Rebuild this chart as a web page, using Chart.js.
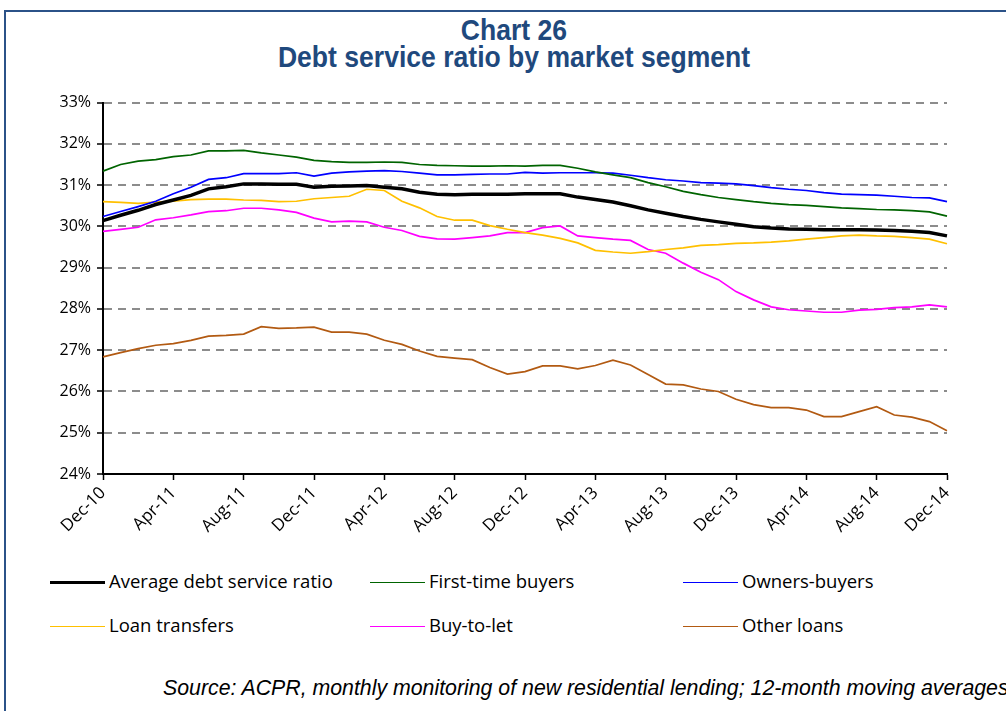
<!DOCTYPE html>
<html lang="en">

<head>
  <meta charset="UTF-8">
  <title>Debt service ratio by market segment</title>
  <script src="https://cdn.jsdelivr.net/npm/chart.js"></script>
</head>

<body>
  <div class="frame"></div>

  <div class="titulo">
    <div>Chart 26</div>
    <div>Debt service ratio by market segment</div>
  </div>

  <div class="container-chart">
    <canvas id="myChart"></canvas>
  </div>

  <div id="legenda"></div>

  <div class="fonte">Source: ACPR, monthly monitoring of new residential lending; 12-month moving averages</div>

<script>

  // monthly, Dec-10 .. Dec-14
  const meses = ['Dec-10', 'Jan-11', 'Feb-11', 'Mar-11', 'Apr-11', 'May-11', 'Jun-11', 'Jul-11', 'Aug-11', 'Sep-11', 'Oct-11', 'Nov-11',
    'Dec-11', 'Jan-12', 'Feb-12', 'Mar-12', 'Apr-12', 'May-12', 'Jun-12', 'Jul-12', 'Aug-12', 'Sep-12', 'Oct-12', 'Nov-12',
    'Dec-12', 'Jan-13', 'Feb-13', 'Mar-13', 'Apr-13', 'May-13', 'Jun-13', 'Jul-13', 'Aug-13', 'Sep-13', 'Oct-13', 'Nov-13',
    'Dec-13', 'Jan-14', 'Feb-14', 'Mar-14', 'Apr-14', 'May-14', 'Jun-14', 'Jul-14', 'Aug-14', 'Sep-14', 'Oct-14', 'Nov-14', 'Dec-14'];

  const media = [30.14, 30.27, 30.39, 30.53, 30.64, 30.75, 30.91, 30.96, 31.03, 31.03, 31.02, 31.02,
    30.95, 30.97, 30.98, 30.99, 30.95, 30.91, 30.83, 30.78, 30.77, 30.78, 30.78, 30.78,
    30.79, 30.79, 30.79, 30.71, 30.65, 30.59, 30.50, 30.40, 30.32, 30.24, 30.17, 30.11,
    30.05, 29.99, 29.96, 29.94, 29.93, 29.92, 29.92, 29.92, 29.91, 29.90, 29.88, 29.85, 29.77];

  const primeiraCompra = [31.34, 31.50, 31.58, 31.62, 31.69, 31.73, 31.83, 31.83, 31.84, 31.78, 31.73, 31.68,
    31.60, 31.57, 31.55, 31.55, 31.56, 31.55, 31.50, 31.48, 31.47, 31.46, 31.46, 31.47,
    31.46, 31.48, 31.48, 31.41, 31.32, 31.25, 31.18, 31.06, 30.96, 30.85, 30.77, 30.70,
    30.65, 30.60, 30.56, 30.53, 30.51, 30.48, 30.45, 30.43, 30.41, 30.40, 30.38, 30.35, 30.25];

  const proprietarios = [30.24, 30.36, 30.48, 30.61, 30.79, 30.95, 31.14, 31.18, 31.28, 31.28, 31.28, 31.30,
    31.22, 31.29, 31.32, 31.34, 31.35, 31.33, 31.29, 31.25, 31.25, 31.26, 31.27, 31.27,
    31.31, 31.29, 31.30, 31.30, 31.30, 31.29, 31.24, 31.18, 31.13, 31.10, 31.06, 31.05,
    31.03, 30.99, 30.94, 30.90, 30.87, 30.82, 30.78, 30.77, 30.76, 30.73, 30.70, 30.69, 30.60];

  const transferencias = [30.60, 30.58, 30.56, 30.59, 30.61, 30.65, 30.66, 30.66, 30.64, 30.63, 30.60, 30.61,
    30.67, 30.70, 30.73, 30.90, 30.87, 30.61, 30.45, 30.24, 30.15, 30.15, 30.02, 29.93,
    29.85, 29.79, 29.71, 29.60, 29.42, 29.38, 29.35, 29.39, 29.44, 29.48, 29.54, 29.56,
    29.59, 29.60, 29.62, 29.65, 29.69, 29.73, 29.77, 29.79, 29.77, 29.76, 29.73, 29.69, 29.58];

  const aluguel = [29.88, 29.93, 29.98, 30.16, 30.21, 30.28, 30.36, 30.38, 30.44, 30.44, 30.40, 30.34,
    30.20, 30.11, 30.13, 30.11, 29.98, 29.90, 29.76, 29.70, 29.69, 29.73, 29.77, 29.85,
    29.85, 29.97, 30.01, 29.77, 29.73, 29.69, 29.66, 29.44, 29.35, 29.11, 28.89, 28.71,
    28.42, 28.22, 28.05, 27.98, 27.95, 27.92, 27.92, 27.97, 27.99, 28.03, 28.05, 28.10, 28.05];

  const outros = [26.84, 26.94, 27.04, 27.12, 27.16, 27.24, 27.34, 27.36, 27.39, 27.57, 27.53, 27.54,
    27.56, 27.44, 27.44, 27.39, 27.24, 27.14, 26.98, 26.85, 26.81, 26.77, 26.58, 26.42,
    26.48, 26.62, 26.62, 26.55, 26.63, 26.76, 26.64, 26.41, 26.18, 26.16, 26.06, 26.00,
    25.81, 25.68, 25.61, 25.61, 25.55, 25.39, 25.39, 25.51, 25.63, 25.43, 25.38, 25.27, 25.05];

  const series = [
    { label: 'Average debt service ratio', data: media, cor: '#000000', largura: 3.5 },
    { label: 'First-time buyers', data: primeiraCompra, cor: '#006400', largura: 1.7 },
    { label: 'Owners-buyers', data: proprietarios, cor: '#0000ff', largura: 1.7 },
    { label: 'Loan transfers', data: transferencias, cor: '#ffc000', largura: 1.7 },
    { label: 'Buy-to-let', data: aluguel, cor: '#ff00ff', largura: 1.7 },
    { label: 'Other loans', data: outros, cor: '#b25a12', largura: 1.7 }
  ];

  // draw order: black on top
  const datasets = series.map((s, i) => ({
    label: s.label,
    data: s.data,
    borderColor: s.cor,
    borderWidth: s.largura,
    pointRadius: 0,
    tension: 0,
    order: i === 0 ? 0 : 1
  }));

  const fonte = { family: "'Open Sans', sans-serif", size: 16 };

  new Chart(document.getElementById('myChart'), {
    type: 'line',
    data: { labels: meses, datasets: datasets },
    options: {
      responsive: true,
      maintainAspectRatio: false,
      animation: false,
      layout: { padding: { top: 10, right: 23, left: 0, bottom: 0 } },
      plugins: {
        legend: { display: false },
        tooltip: { enabled: false }
      },
      scales: {
        x: {
          afterFit: s => { s.height = 82 },
          grid: {
            drawOnChartArea: false,
            drawTicks: true,
            tickLength: 6,
            tickColor: '#000',
            tickWidth: 1.5
          },
          border: { color: '#000', width: 2 },
          ticks: {
            autoSkip: false,
            maxRotation: 45,
            minRotation: 45,
            padding: 3,
            color: '#000',
            font: { family: fonte.family, size: 17 },
            callback: function (v, i) { return i % 4 === 0 ? meses[i] : null }
          }
        },
        y: {
          min: 24,
          max: 33,
          afterFit: s => { s.width = 63 },
          grid: {
            color: ctx => ctx.tick && ctx.tick.value === 24 ? 'rgba(0,0,0,0)' : '#8c8c8c',
            lineWidth: 2,
            tickColor: '#000',
            tickLength: 6,
            tickWidth: 1.5,
            tickBorderDash: []
          },
          border: { color: '#000', width: 2, dash: [8, 6] },
          ticks: {
            stepSize: 1,
            padding: 6,
            color: '#000',
            font: fonte,
            callback: v => v + '%'
          }
        }
      }
    }
  });

  // legend in three columns
  const legenda = document.getElementById('legenda');
  series.forEach((s, i) => {
    legenda.innerHTML += `<div class="item" style="left:${[50, 370, 683][i % 3]}px;top:${i < 3 ? 0 : 44}px">
      <span class="amostra" style="border-top:${s.largura}px solid ${s.cor}"></span>${s.label}</div>`;
  });

</script>

<style>
  body {
    margin: 0;
    background: white;
    overflow: hidden;
  }

  .frame {
    position: absolute;
    left: 4px;
    top: 10px;
    width: 1100px;
    height: 800px;
    border: 2px solid #2b5288;
  }

  .titulo {
    position: absolute;
    top: 16px;
    left: 0;
    width: 1028px;
    text-align: center;
    color: #1f497d;
    font-family: 'Liberation Sans', Arial, sans-serif;
    font-weight: bold;
    font-size: 30px;
    line-height: 27px;
    transform: scaleX(0.885);
  }

  .container-chart {
    position: absolute;
    left: 40px;
    top: 87px;
    width: 930px;
    height: 469px;
  }

  #legenda {
    position: absolute;
    left: 0;
    top: 568px;
  }

  .item {
    position: absolute;
    white-space: nowrap;
    font-family: 'Open Sans', sans-serif;
    font-size: 18.5px;
    line-height: 26px;
    color: #000;
  }

  .amostra {
    display: inline-block;
    width: 55px;
    vertical-align: middle;
    margin-right: 4px;
    position: relative;
    top: -1px;
  }

  .fonte {
    position: absolute;
    left: 163px;
    top: 676px;
    white-space: nowrap;
    font-family: 'Liberation Sans', Arial, sans-serif;
    font-style: italic;
    font-size: 21.3px;
  }
</style>

</body>

</html>
